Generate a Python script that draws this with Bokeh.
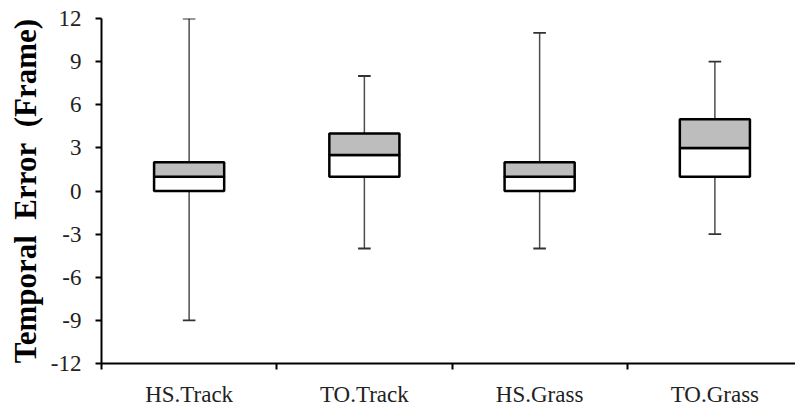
from bokeh.plotting import figure
from bokeh.models import Range1d, FixedTicker
from bokeh.embed import file_html
from bokeh.resources import INLINE

# Box-plot statistics per condition (frames)
categories = ["HS.Track", "TO.Track", "HS.Grass", "TO.Grass"]
whisker_min = [-9, -4, -4, -3]
q1 = [0, 1, 0, 1]
median = [1, 2.5, 1, 3]
q3 = [2, 4, 2, 5]
whisker_max = [12, 8, 11, 9]
y_ticks = [-12, -9, -6, -3, 0, 3, 6, 9, 12]

xs = [i + 0.5 for i in range(len(categories))]
box_w = 0.4
cap_w = 0.072

p = figure(width=795, height=409, output_backend="svg", toolbar_location=None,
           x_range=Range1d(0, 3.96), y_range=Range1d(-12, 12),
           min_border_left=101, min_border_top=18, min_border_bottom=42,
           min_border_right=0)
p.outline_line_color = None
p.xgrid.visible = False
p.ygrid.visible = False
p.background_fill_color = "white"
p.border_fill_color = "white"

# whiskers and caps
p.segment(x0=xs, y0=q3, x1=xs, y1=whisker_max, line_color="#4d4d4d", line_width=1.5)
p.segment(x0=xs, y0=whisker_min, x1=xs, y1=q1, line_color="#4d4d4d", line_width=1.5)
p.segment(x0=[x - cap_w / 2 for x in xs], y0=whisker_max,
          x1=[x + cap_w / 2 for x in xs], y1=whisker_max, line_color="#333333", line_width=1.8)
p.segment(x0=[x - cap_w / 2 for x in xs], y0=whisker_min,
          x1=[x + cap_w / 2 for x in xs], y1=whisker_min, line_color="#333333", line_width=1.8)

# boxes: white lower half, grey upper half
p.vbar(x=xs, width=box_w, bottom=q1, top=median, fill_color="white",
       line_color="black", line_width=2.5)
p.vbar(x=xs, width=box_w, bottom=median, top=q3, fill_color="#bdbdbd",
       line_color="black", line_width=2.5)

# x axis: category names centred, ticks at boundaries
xa = p.xaxis[0]
xa.ticker = FixedTicker(ticks=xs, minor_ticks=[0, 1, 2, 3, 4])
xa.major_label_overrides = {x: c for x, c in zip(xs, categories)}
xa.major_tick_out = 0
xa.major_tick_in = 0
xa.minor_tick_out = 6
xa.minor_tick_in = 0
xa.minor_tick_line_width = 2
xa.minor_tick_line_color = "black"
xa.axis_line_width = 2
xa.axis_line_color = "black"
xa.major_label_text_font = "Liberation Serif"
xa.major_label_text_font_size = "23px"
xa.major_label_text_color = "#222222"
xa.major_label_standoff = 12

# y axis (plain hyphen for negatives)
ya = p.yaxis[0]
ya.ticker = FixedTicker(ticks=y_ticks)
ya.major_label_overrides = {t: str(t) for t in y_ticks}
ya.minor_tick_out = 0
ya.minor_tick_in = 0
ya.major_tick_out = 6
ya.major_tick_in = 0
ya.major_tick_line_width = 2
ya.axis_line_width = 2
ya.axis_line_color = "black"
ya.major_label_text_font = "Liberation Serif"
ya.major_label_text_font_size = "23px"
ya.major_label_text_color = "#222222"
ya.major_label_standoff = 14
ya.axis_label = "Temporal\u00a0 Error\u00a0 (Frame)"
ya.axis_label_text_font = "Liberation Serif"
ya.axis_label_text_font_style = "bold"
ya.axis_label_text_font_size = "31px"
ya.axis_label_text_color = "black"
ya.axis_label_standoff = 5

open("out.html", "w").write(file_html(p, INLINE))
